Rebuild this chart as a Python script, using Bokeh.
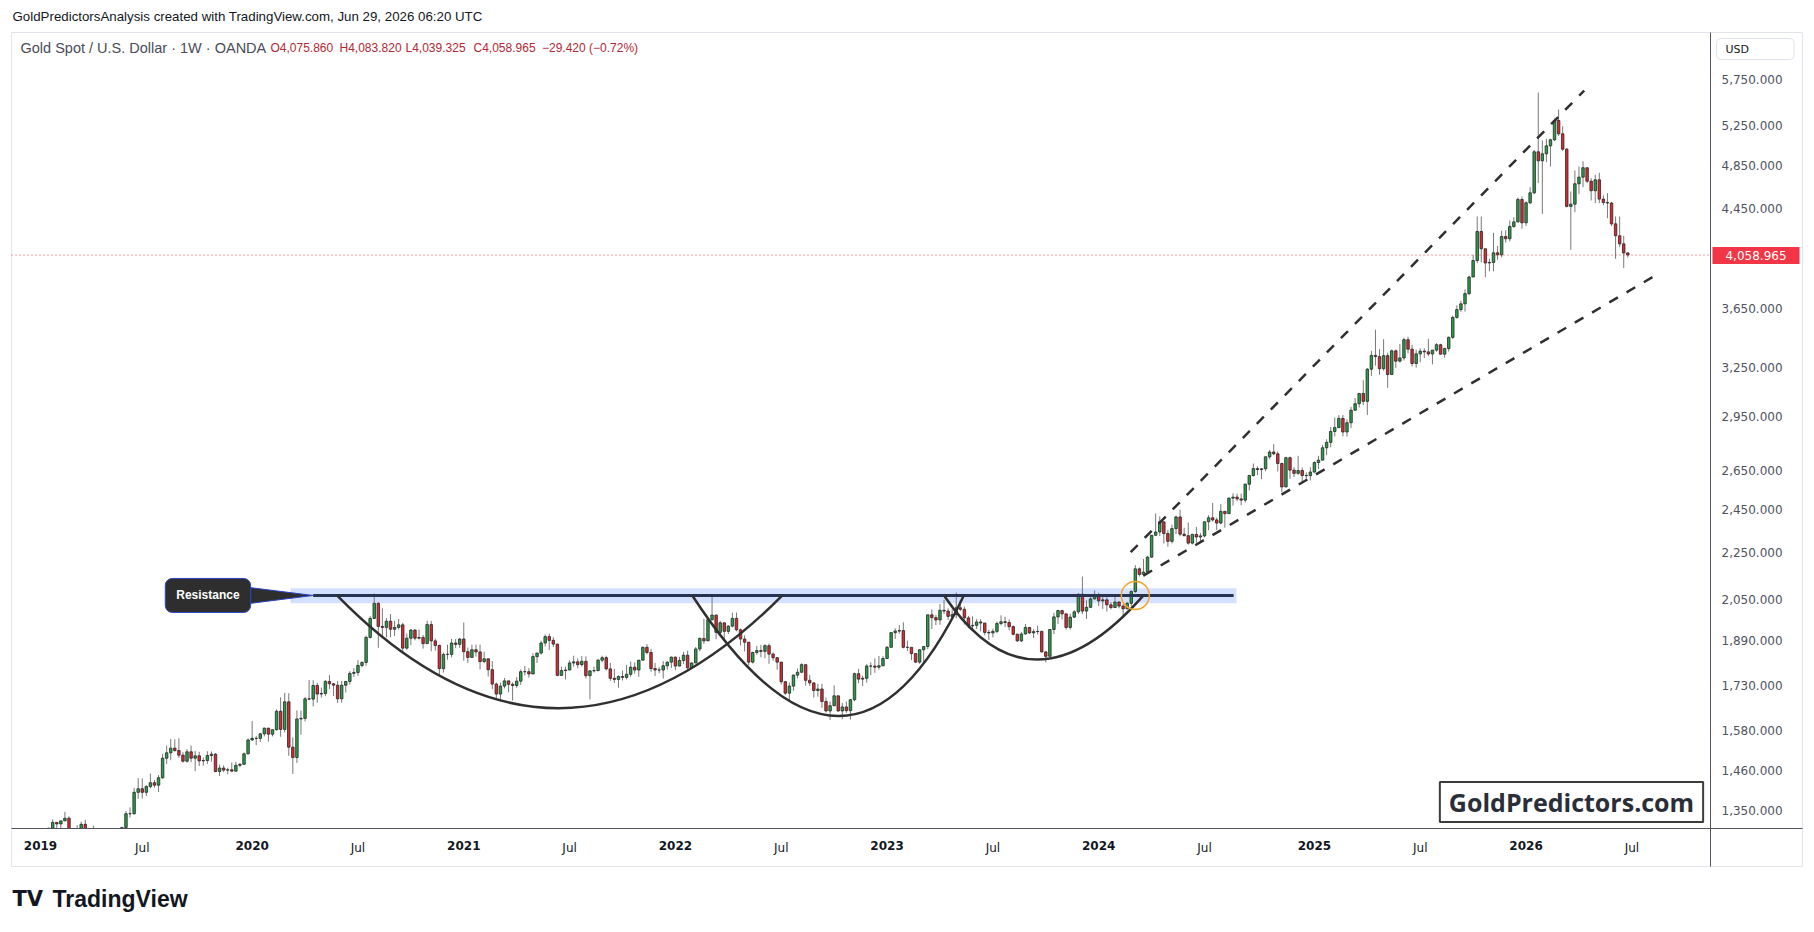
import numpy as np
import pandas as pd
from bokeh.plotting import figure
from bokeh.models import (Range1d, FixedTicker, NumeralTickFormatter, DatetimeAxis,
                          DatetimeTickFormatter, Label, ColumnDataSource)
from bokeh.embed import file_html
from bokeh.resources import INLINE

# ---------------- weekly OHLC data (Gold spot / USD, OANDA, 1W) ----------------
first_week = "2019-01-07"
first_open = 1285.0

c19 = [1289,1282,1303,1318,1314,1322,1329,1294,1298,1302,1313,1292,1291,1290,1276,1287,1281,1286,1275,1283,1305,1341,1341,1399,1409,1399,
       1415,1426,1419,1440,1497,1513,1527,1520,1506,1488,1516,1497,1504,1489,1490,1505,1509,1458,1468,1462,1463,1459,1476,1479,1510,1552]
h19 = [1298,1298,1304,1326,1319,1323,1346,1334,1299,1311,1320,1325,1298,1310,1297,1289,1289,1291,1303,1288,1306,1348,1358,1411,1439,1438,
       1419,1452,1434,1448,1510,1535,1555,1554,1557,1515,1524,1535,1519,1516,1499,1518,1517,1512,1478,1476,1469,1484,1486,1482,1514,1557]
l19 = [1280,1276,1276,1297,1303,1302,1321,1292,1281,1289,1297,1281,1281,1285,1270,1266,1267,1279,1273,1272,1281,1303,1331,1338,1381,1382,
       1389,1410,1412,1400,1437,1480,1491,1516,1498,1484,1484,1485,1459,1474,1475,1480,1487,1456,1445,1456,1450,1458,1458,1470,1477,1508]

c20 = [1557,1557,1571,1589,1570,1584,1643,1585,1674,1530,1499,1618,1620,1684,1683,1729,1700,1702,1743,1735,1730,1684,1730,1743,1771,1774,
       1799,1810,1902,1975,2035,1944,1940,1964,1933,1940,1950,1862,1899,1930,1899,1902,1879,1951,1889,1872,1788,1839,1839,1881,1876,1896]
h20 = [1611,1564,1574,1590,1583,1584,1649,1689,1704,1703,1560,1646,1645,1690,1748,1747,1738,1722,1748,1765,1737,1745,1745,1745,1779,1789,
       1818,1814,1909,1984,2075,2039,2015,1976,1992,1966,1973,1958,1917,1933,1933,1932,1911,1966,1965,1898,1875,1846,1875,1897,1896,1900]
l20 = [1549,1536,1546,1563,1547,1563,1581,1562,1576,1504,1451,1483,1568,1610,1681,1659,1671,1688,1693,1717,1693,1670,1671,1705,1732,1758,
       1762,1792,1798,1898,1972,1863,1902,1902,1903,1907,1932,1848,1856,1873,1891,1894,1860,1877,1851,1853,1765,1774,1820,1828,1862,1863]

c21 = [1849,1828,1856,1848,1813,1823,1784,1734,1700,1727,1745,1733,1729,1744,1777,1777,1769,1831,1844,1881,1905,1891,1877,1764,1781,1783,
       1808,1812,1802,1814,1763,1780,1781,1818,1827,1787,1754,1750,1760,1757,1768,1793,1783,1818,1865,1846,1788,1783,1783,1798,1811,1829]
h21 = [1959,1864,1875,1875,1875,1849,1824,1815,1739,1739,1755,1745,1740,1758,1785,1797,1790,1843,1845,1890,1913,1917,1903,1878,1795,1795,
       1818,1834,1824,1833,1832,1782,1795,1823,1834,1834,1808,1787,1765,1781,1801,1813,1810,1818,1868,1877,1859,1808,1793,1815,1814,1831]
l21 = [1816,1808,1835,1831,1785,1807,1760,1717,1687,1676,1719,1706,1678,1721,1731,1764,1756,1771,1808,1838,1868,1855,1866,1761,1771,1750,
       1784,1795,1789,1795,1753,1682,1774,1778,1810,1782,1745,1738,1721,1746,1750,1759,1770,1759,1817,1839,1777,1762,1772,1753,1784,1790]

c22 = [1797,1817,1836,1791,1808,1859,1898,1889,1970,1988,1921,1958,1925,1945,1975,1931,1896,1884,1811,1846,1853,1850,1871,1840,1827,1811,
       1742,1703,1727,1765,1775,1802,1747,1738,1712,1717,1675,1644,1661,1694,1644,1657,1645,1681,1770,1751,1754,1797,1797,1793,1798,1824]
h22 = [1831,1830,1848,1853,1810,1866,1902,1974,1974,2070,1990,1966,1950,1948,1998,1998,1936,1910,1884,1849,1870,1874,1877,1879,1847,1830,
       1812,1745,1739,1767,1788,1807,1802,1765,1739,1735,1735,1688,1675,1729,1687,1670,1675,1683,1774,1787,1763,1804,1810,1824,1833,1833]
l22 = [1782,1796,1805,1780,1788,1807,1850,1878,1889,1966,1895,1910,1890,1915,1940,1925,1872,1850,1799,1806,1838,1829,1825,1805,1816,1784,
       1733,1697,1680,1711,1754,1773,1728,1727,1688,1691,1654,1639,1615,1660,1641,1617,1638,1616,1676,1737,1727,1739,1765,1773,1785,1797]

c23 = [1865,1920,1926,1928,1865,1865,1842,1811,1856,1868,1989,1978,1969,2007,2004,1983,1990,2017,2011,1977,1946,1948,1961,1957,1921,1919,
       1925,1955,1962,1959,1943,1914,1889,1915,1940,1919,1924,1925,1848,1832,1932,1981,2006,1993,1940,1980,2001,2072,2004,2019,2053,2063]
h23 = [1870,1922,1937,1949,1960,1890,1862,1843,1858,1870,1990,2010,1988,2032,2049,2015,2009,2079,2048,2022,1985,1983,1972,1972,1948,1931,
       1935,1963,1987,1982,1971,1948,1916,1923,1953,1938,1933,1947,1925,1852,1934,1997,2009,2005,1970,1993,2008,2075,2146,2047,2070,2088]
l23 = [1823,1867,1896,1916,1861,1852,1819,1808,1805,1809,1858,1934,1949,1950,1992,1969,1975,1975,2004,1951,1937,1932,1934,1925,1910,1893,
       1902,1918,1948,1942,1929,1910,1885,1884,1913,1915,1900,1913,1846,1810,1832,1915,1953,1971,1932,1932,1976,1992,1992,1973,2016,2050]

c24 = [2045,2049,2029,2018,2040,2024,2013,2035,2083,2179,2155,2165,2230,2329,2344,2392,2337,2301,2360,2415,2334,2327,2293,2333,2321,2326,
       2392,2411,2401,2386,2442,2431,2507,2512,2503,2497,2577,2622,2658,2653,2657,2721,2747,2737,2685,2563,2716,2650,2633,2648,2622,2621,2640]
h24 = [2078,2062,2060,2040,2066,2044,2033,2041,2088,2195,2185,2222,2236,2330,2432,2418,2353,2353,2378,2422,2450,2364,2388,2336,2368,2339,
       2393,2424,2483,2412,2477,2433,2509,2531,2529,2529,2581,2625,2685,2670,2660,2722,2758,2790,2750,2690,2721,2722,2665,2726,2664,2638,2665]
l24 = [2024,2013,2002,2010,2024,2015,1984,2011,2024,2078,2146,2146,2163,2228,2325,2325,2291,2277,2291,2334,2325,2324,2286,2287,2295,2293,
       2319,2352,2392,2353,2380,2364,2432,2470,2492,2472,2485,2546,2615,2624,2603,2644,2708,2729,2643,2537,2564,2605,2614,2626,2583,2605,2596]

c25 = [2690,2703,2770,2800,2861,2883,2936,2858,2911,2984,3023,3085,3037,3237,3327,3319,3240,3325,3203,3357,3289,3310,3432,3368,3274,3337,
       3355,3350,3336,3362,3398,3335,3372,3448,3587,3643,3685,3760,3886,4015,4253,4110,3996,4000,4077,4061,4211,4192,4295,4335,4532,4327]
h25 = [2697,2726,2786,2817,2886,2942,2955,2956,2930,3004,3057,3086,3167,3245,3357,3500,3368,3435,3345,3366,3366,3403,3446,3452,3398,3365,
       3374,3375,3438,3363,3409,3404,3378,3454,3600,3674,3707,3791,3897,4060,4381,4381,4110,4030,4242,4133,4260,4264,4347,4375,4550,4559]
l25 = [2636,2656,2702,2730,2772,2833,2880,2833,2832,2880,2982,3000,3015,2956,3194,3260,3202,3228,3120,3205,3245,3280,3293,3340,3255,3247,
       3282,3310,3324,3268,3351,3331,3311,3352,3436,3578,3627,3629,3749,3885,3994,4002,3885,3930,3931,4022,4040,4160,4170,4285,4330,4276]

c26 = [4502,4592,4981,4893,4961,5040,5101,5300,5162,5007,4470,4490,4675,4737,4826,4699,4611,4712,4535,4505,4500,4318,4217,4150,4075.86,4058.965]
h26 = [4515,4644,5000,5602,5094,5111,5111,5320,5417,5241,5020,4605,4800,4838,4889,4800,4728,4759,4778,4568,4589,4510,4382,4382,4217,4083.82]
l26 = [4300,4490,4580,4681,4405,4879,4838,5090,5140,4990,4460,4101,4419,4583,4644,4680,4523,4499,4499,4480,4367,4300,4029,4123,3957,4039.325]

closes = c19 + c20 + c21 + c22 + c23 + c24 + c25 + c26
highs = h19 + h20 + h21 + h22 + h23 + h24 + h25 + h26
lows = l19 + l20 + l21 + l22 + l23 + l24 + l25 + l26
opens = [first_open] + closes[:-1]

# axis ticks
year_ticks = ["2019-01-07", "2020-01-06", "2021-01-04", "2022-01-03", "2023-01-02", "2024-01-01", "2025-01-06", "2026-01-05"]
jul_ticks = ["2019-07-01", "2020-07-06", "2021-07-05", "2022-07-04", "2023-07-03", "2024-07-01", "2025-07-07", "2026-07-06"]
price_ticks = [1350, 1460, 1580, 1730, 1890, 2050, 2250, 2450, 2650, 2950, 3250, 3650, 4450, 4850, 5250, 5750]
last_price = 4058.965

# drawings (date, price anchors)
resistance_price = 2067
band_dates = ["2020-03-12", "2024-08-25"]
band_prices = [2035, 2097]
resistance_dates = ["2020-04-20", "2024-08-20"]
arc_starts = ["2020-05-31", "2022-02-01", "2023-04-10"]
arc_ends = ["2022-07-06", "2023-05-14", "2024-03-18"]
arc_ctrl_dates = ["2021-06-14", "2022-10-29", "2023-09-06"]
arc_ctrl_prices = [1322, 1282, 1603]
upper_dates = ["2024-02-25", "2026-04-15"]
upper_prices = [2252, 5624]
lower_dates = ["2024-03-18", "2026-08-24"]
lower_prices = [2150, 3921]
breakout_date = "2024-03-04"
callout_date = "2019-10-22"
callout_base_date = "2019-12-28"
callout_base_prices = [2101, 2033]

# ---------------- page layout (page pixels -> data) ----------------
W, H = 1814, 932
CHART_L, CHART_R, CHART_T, CHART_B = 11, 1710, 32, 828
PANE_R, PANE_B = 1802, 866
PX_PER_WEEK = 4.07
LAST_BAR_PX = 1627.3
PX_PER_LN = 504.4
BASE_PRICE = 1302.2          # price at the time-axis line

dates = pd.date_range(first_week, periods=len(closes), freq="7D")
t_last = dates[-1]


def ms(d):
    return pd.Timestamp(d).value / 1e6


def xdate(px):
    return t_last + pd.Timedelta(days=7 * (px - LAST_BAR_PX) / PX_PER_WEEK)


def yprice(py):
    return BASE_PRICE * np.exp((CHART_B - py) / PX_PER_LN)


p = figure(width=W, height=H, title=None, x_axis_type="datetime", y_axis_type="log",
           x_range=Range1d(xdate(0).to_pydatetime(), xdate(W).to_pydatetime()),
           y_range=Range1d(yprice(H), yprice(0)), y_axis_location="right",
           output_backend="svg", toolbar_location=None,
           min_border=0, min_border_left=0, min_border_right=0, min_border_top=0, min_border_bottom=0)
p.xgrid.visible = False
p.ygrid.visible = False
p.background_fill_color = "white"
p.border_fill_color = "white"
p.outline_line_color = None

# pane border
p.quad(left=[xdate(CHART_L)], right=[xdate(PANE_R)], bottom=[yprice(PANE_B)], top=[yprice(CHART_T)],
       fill_color=None, line_color="#e0e3eb", line_width=1)

# price axis (right of the chart)
ya = p.yaxis[0]
ya.fixed_location = ms(xdate(CHART_R))
ya.bounds = (yprice(PANE_B), yprice(CHART_T))
ya.ticker = FixedTicker(ticks=price_ticks)
ya.formatter = NumeralTickFormatter(format="0,0.000")
ya.major_label_text_font = "DejaVu Sans"
ya.major_label_text_font_size = "12px"
ya.major_label_text_color = "#50535e"
ya.major_tick_line_color = None
ya.minor_tick_line_color = None
ya.axis_line_color = "#50535e"
ya.major_label_standoff = 5

# time axis: years (bold) and July (normal)
fmt_keys = ["microseconds", "milliseconds", "seconds", "minsec", "minutes", "hourmin", "hours", "days", "months", "years"]
xa = p.xaxis[0]
xa.fixed_location = BASE_PRICE
xa.bounds = (ms(xdate(CHART_L)), ms(xdate(PANE_R)))
xa.ticker = FixedTicker(ticks=[ms(d) for d in year_ticks])
xa.formatter = DatetimeTickFormatter(boundary_scaling=False, **{k: "%Y" for k in fmt_keys})
xa.major_label_text_font = "DejaVu Sans"
xa.major_label_text_font_size = "12px"
xa.major_label_text_font_style = "bold"
xa.major_label_text_color = "#131722"
xa.major_tick_line_color = None
xa.minor_tick_line_color = None
xa.axis_line_color = "#50535e"
xa.major_label_standoff = 6

xa2 = DatetimeAxis(ticker=FixedTicker(ticks=[ms(d) for d in jul_ticks]),
                   formatter=DatetimeTickFormatter(boundary_scaling=False, **{k: "%b" for k in fmt_keys}),
                   fixed_location=BASE_PRICE)
xa2.major_label_text_font = "DejaVu Sans"
xa2.major_label_text_font_size = "12px"
xa2.major_label_text_color = "#131722"
xa2.major_tick_line_color = None
xa2.minor_tick_line_color = None
xa2.axis_line_color = None
xa2.major_label_standoff = 6
p.add_layout(xa2, "below")

# resistance zone (under the candles)
p.quad(left=[pd.Timestamp(band_dates[0])], right=[pd.Timestamp(band_dates[1])],
       bottom=[band_prices[0]], top=[band_prices[1]],
       fill_color="#2962ff", fill_alpha=0.2, line_color=None)

# candles
o = np.array(opens, dtype=float)
c = np.array(closes, dtype=float)
hi = np.maximum(np.array(highs, dtype=float), np.maximum(o, c))
lo = np.minimum(np.array(lows, dtype=float), np.minimum(o, c))
up = c >= o
bar_w = 2.5 / PX_PER_WEEK * 7 * 86400000

src = ColumnDataSource(dict(x=dates, high=hi, low=lo, top=np.maximum(o, c), bottom=np.minimum(o, c),
                            color=np.where(up, "#25a046", "#e0262f")))
p.segment(x0="x", y0="low", x1="x", y1="high", source=src, line_color="#787878", line_width=1)
p.vbar(x="x", width=bar_w, top="top", bottom="bottom", source=src,
       fill_color="color", line_color="#262626", line_width=0.8)

# time-axis strip hides what lies below the chart
p.quad(left=[xdate(CHART_L + 1)], right=[xdate(CHART_R)], bottom=[yprice(PANE_B - 1)], top=[BASE_PRICE],
       fill_color="white", line_color=None)

# current price line
p.segment(x0=[xdate(CHART_L)], y0=[last_price], x1=[xdate(CHART_R)], y1=[last_price],
          line_color="#f23645", line_dash="1 3", line_width=1)

# resistance line
p.segment(x0=[pd.Timestamp(resistance_dates[0])], y0=[resistance_price],
          x1=[pd.Timestamp(resistance_dates[1])], y1=[resistance_price],
          line_color="#283352", line_width=3)

# cup arcs
p.quadratic(x0=pd.to_datetime(arc_starts), y0=[resistance_price] * 3,
            x1=pd.to_datetime(arc_ends), y1=[resistance_price] * 3,
            cx=pd.to_datetime(arc_ctrl_dates), cy=arc_ctrl_prices,
            line_color="#303030", line_width=2.5)

# channel lines
p.segment(x0=[pd.Timestamp(upper_dates[0]), pd.Timestamp(lower_dates[0])],
          y0=[upper_prices[0], lower_prices[0]],
          x1=[pd.Timestamp(upper_dates[1]), pd.Timestamp(lower_dates[1])],
          y1=[upper_prices[1], lower_prices[1]],
          line_color="#303030", line_width=2.5, line_dash="10 10")

# breakout circle
p.scatter(x=[pd.Timestamp(breakout_date)], y=[resistance_price], marker="circle", size=28,
          fill_color=None, line_color="#f5a32a", line_width=1.5)

# callout pointer + box
p.patch(x=[pd.Timestamp(callout_base_date), pd.Timestamp(resistance_dates[0]), pd.Timestamp(callout_base_date)],
        y=[callout_base_prices[0], resistance_price, callout_base_prices[1]],
        fill_color="#2e2e2e", line_color="#2d45c8", line_width=1)


def pad(l, r, t, b):
    return dict(left=l, right=r, top=t, bottom=b)


def make_label(**kw):
    try:
        return Label(**kw)
    except Exception:
        kw["padding"] = 4
        return Label(**kw)


p.add_layout(make_label(x=ms(callout_date), y=resistance_price, text="Resistance",
                        text_align="center", text_baseline="middle",
                        text_font="Liberation Sans", text_font_size="12px", text_font_style="bold",
                        text_color="white", background_fill_color="#2e2e2e",
                        border_line_color="#2d45c8", border_line_width=1, border_radius=7,
                        padding=pad(11, 11, 10, 10)))


# ---------------- texts ----------------
def add_text(px, py, text, size, color, font="Liberation Sans", style="normal", align="left", **kw):
    p.add_layout(make_label(x=ms(xdate(px)), y=yprice(py), text=text, text_align=align,
                            text_baseline="middle", text_font=font, text_font_size=size,
                            text_font_style=style, text_color=color, **kw))


add_text(12, 16, "GoldPredictorsAnalysis created with TradingView.com, Jun 29, 2026 06:20 UTC", "13.3px", "#131722")
add_text(20, 47, "Gold Spot / U.S. Dollar \u00b7 1W \u00b7 OANDA", "14.5px", "#4a4d57")
legend_x = [270, 339, 405, 473, 541.5]
legend_txt = ["O4,075.860", "H4,083.820", "L4,039.325", "C4,058.965", "\u221229.420 (\u22120.72%)"]
for lx, lt in zip(legend_x, legend_txt):
    add_text(lx, 47, lt, "12px", "#b22833")

add_text(1716, 48.5, "USD", "11px", "#131722", font="DejaVu Sans",
         border_line_color="#e0e3eb", border_line_width=1, border_radius=4,
         padding=pad(9, 45, 4, 4), background_fill_color="white")

add_text(1755.5, 255, "4,058.965", "12px", "white", font="DejaVu Sans", align="center",
         background_fill_color="#f23645", padding=pad(13, 13, 4, 4))

add_text(1571, 801.5, "GoldPredictors.com", "25px", "#2a2e39", font="Open Sans", style="bold", align="center",
         background_fill_color="white", border_line_color="#3c3c3c", border_line_width=2,
         padding=pad(9, 9, 3, 3))

add_text(12, 898, "TV", "21px", "#131722", font="DejaVu Sans", style="bold")
add_text(52, 898, "TradingView", "23px", "#131722", style="bold")

open("out.html", "w").write(file_html(p, INLINE))
